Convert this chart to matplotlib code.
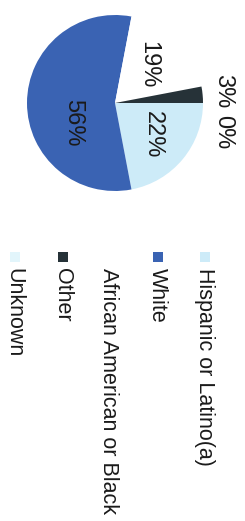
import matplotlib
matplotlib.use("Agg")
import matplotlib.pyplot as plt
import numpy as np
from matplotlib.patches import Rectangle

plt.rcParams['font.family'] = ['Liberation Sans', 'DejaVu Sans']

categories = ["Hispanic or Latino(a)", "White", "African American or Black", "Other", "Unknown"]
values = [22, 56, 19, 3, 0]
pct_labels = ["22%", "56%", "19%", "3%", "0%"]
colors = ["#CDEBF8", "#3A63B3", "#FFFFFF", "#263238", "#E2F5FB"]

W, H = 245, 521
fig = plt.figure(figsize=(W / 100, H / 100), dpi=100)
fig.patch.set_facecolor("white")

# Pie axes (chart shown rotated 90 degrees clockwise)
cx, cy, R = 115, 103, 92
half = 110
ax = fig.add_axes([(cx - half) / W, (H - cy - half) / H, 2 * half / W, 2 * half / H])
ax.set_xlim(-half / R, half / R)
ax.set_ylim(-half / R, half / R)
ax.set_aspect("equal")
ax.axis("off")

wedges, _ = ax.pie(values, colors=colors, startangle=0, counterclock=False,
                   radius=1.0, wedgeprops=dict(linewidth=0))

# label placement (angle in degrees, distance in radii) per slice
label_angle = [-39.5, 205, 49, 6, -15]
label_dist = [0.56, 0.53, 0.58, 1.24, 1.27]
for txt, a, d in zip(pct_labels, label_angle, label_dist):
    t = np.deg2rad(a)
    ax.text(d * np.cos(t), d * np.sin(t), txt, rotation=-90, ha="center", va="center",
            fontsize=17, color="#1a1a1a")

# Legend (rotated)
leg_x = [204, 157, 108, 62, 14]
for name, col, x in zip(categories, colors, leg_x):
    if col.upper() != "#FFFFFF":
        fig.patches.append(Rectangle(((x - 4.5) / W, (H - 262) / H), 10 / W, 10 / H,
                                     transform=fig.transFigure, facecolor=col,
                                     edgecolor="none"))
    fig.text(x / W, (H - 268) / H, name, rotation=-90, rotation_mode="anchor",
             ha="left", va="center", fontsize=15.5, color="#1a1a1a")

fig.savefig("out.png", dpi=100, facecolor="white")
